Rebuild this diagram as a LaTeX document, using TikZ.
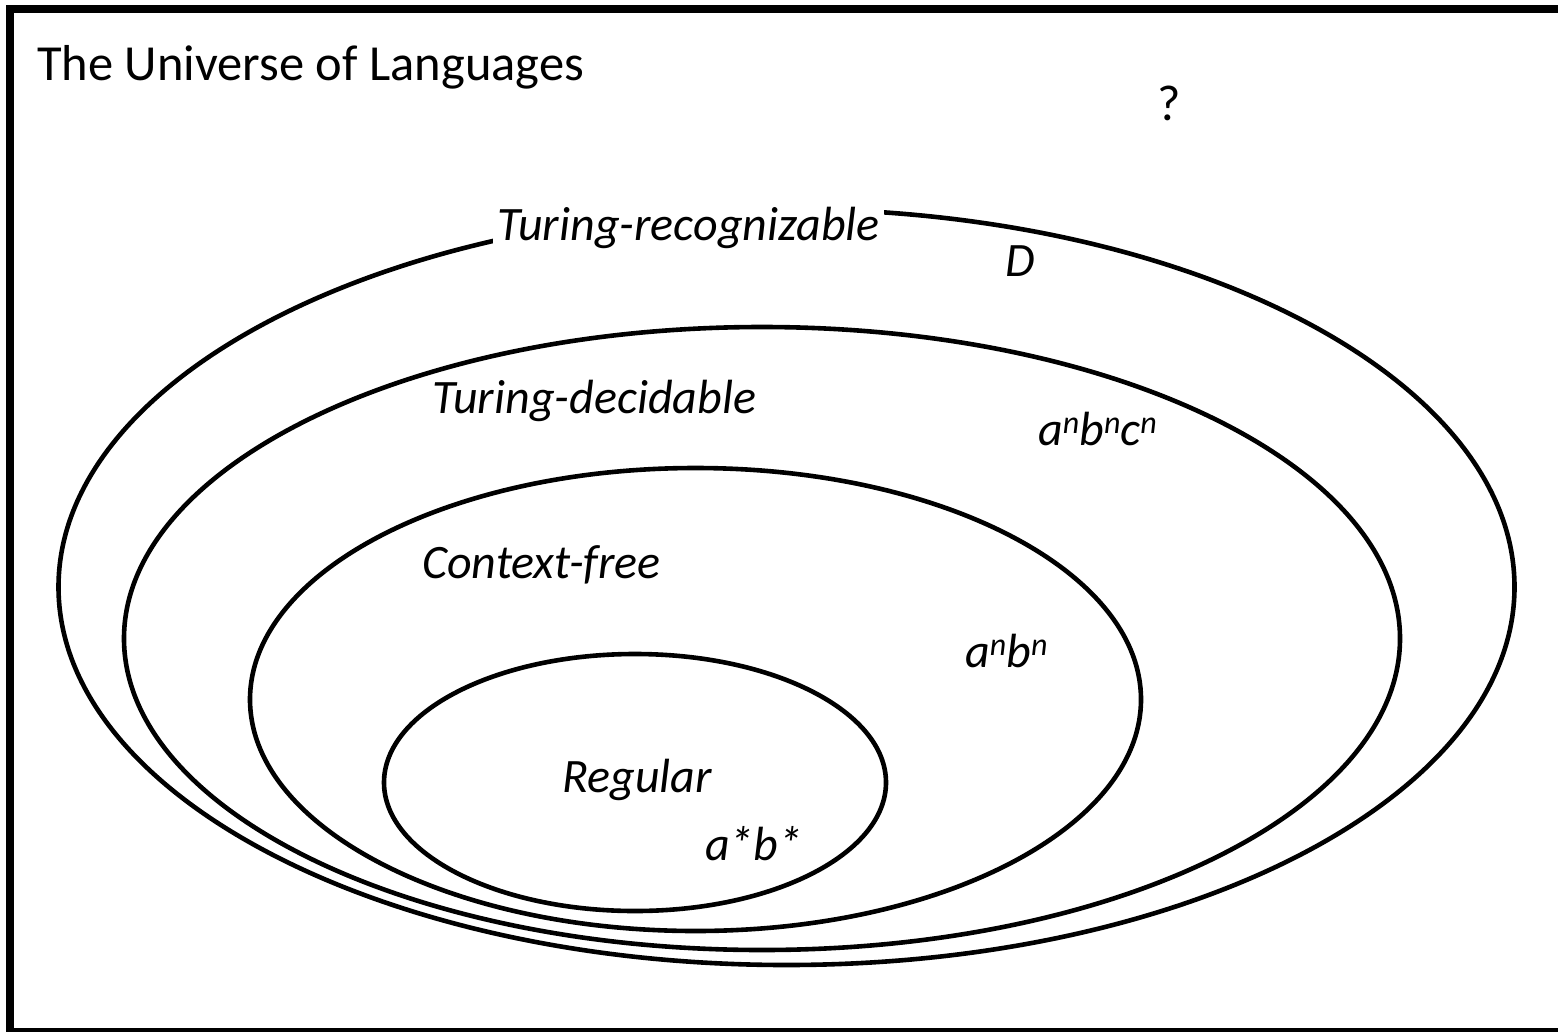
\documentclass[tikz,border=0pt]{standalone}
\usepackage{fontspec}
\setmainfont{Carlito}
\newcommand{\supn}{\raisebox{12pt}{\fontsize{32}{32}\selectfont n}}
\tikzset{
  ring/.style={draw=black, line width=4.6pt},
  lbl/.style={inner sep=0pt, anchor=base west, font=\fontsize{48}{58}\selectfont\itshape},
  ttl/.style={inner sep=0pt, anchor=base west, font=\fontsize{50.5}{60}\selectfont},
}
\begin{document}
\begin{tikzpicture}[x=1pt,y=-1pt]
\useasboundingbox (0,0) rectangle (1558,1031);
\clip (0,0) rectangle (1558,1031);
\fill[white] (0,0) rectangle (1558,1031);
% frame
\draw[line width=8pt] (10,9) rectangle (1580,1032);
% ellipses
\draw[ring] (786.5,587) ellipse [x radius=728, y radius=378];
\draw[ring] (762,638.5) ellipse [x radius=638, y radius=311.5];
\draw[ring] (695.5,699.5) ellipse [x radius=445.5, y radius=231.5];
\draw[ring] (635,782.5) ellipse [x radius=251, y radius=128.5];
% texts
\node[ttl] (title) at (37,80) {The Universe of Languages};
\node[ttl] (q) at (1157,120) {?};
\node[lbl, fill=white, inner xsep=4pt, inner ysep=5pt] (tr) at (493,240) {Turing-recognizable};
\node[lbl] (D) at (1005,276) {D};
\node[lbl] (td) at (432,413) {Turing-decidable};
\node[lbl] (abc) at (1038,445) {a\supn b\supn c\supn};
\node[lbl] (cf) at (422,578) {Context-free};
\node[lbl] (ab) at (965,667) {a\supn b\supn};
\node[lbl] (reg) at (562,792) {Regular};
\node[lbl] (astb) at (705,860) {a*b*};
\end{tikzpicture}
\end{document}
